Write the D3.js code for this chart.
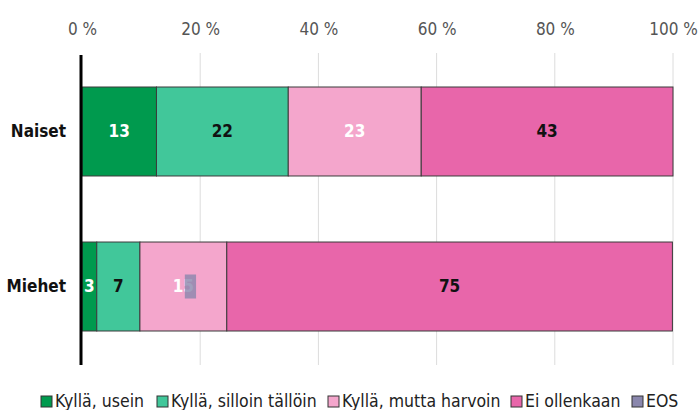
<!DOCTYPE html>
<html>
<head>
<meta charset="utf-8">
<script src="https://cdn.jsdelivr.net/npm/d3@7"></script>
<style>
  body { margin: 0; background: #fff; }
  text { font-family: "DejaVu Sans Condensed", Roboto, sans-serif; }
</style>
</head>
<body>
<script>
var groups = ["Naiset", "Miehet"];
var series = ["Kyllä, usein", "Kyllä, silloin tällöin", "Kyllä, mutta harvoin", "Ei ollenkaan", "EOS"];
var naiset = [12.6, 22.3, 22.5, 42.6, 0];
var miehet = [2.5, 7.3, 14.7, 75.4, 0];
var ticks = [0, 20, 40, 60, 80, 100];
var eosMark = [17.4, 19.3]; // small EOS label box over Miehet

var colors = ["#009a4e", "#41c79a", "#f4a6cc", "#e866aa", "#8a87ad"];
var labelColors = ["#fff", "#111", "#fff", "#111", "#fff"];

var width = 698, height = 410;

var svg = d3.select("body").append("svg")
    .attr("width", width)
    .attr("height", height);

var x = d3.scaleLinear().domain([0, 100]).range([82, 673]);
var y = d3.scaleBand().domain(groups).range([87, 331]).paddingInner(0.426).paddingOuter(0);

// grid lines
svg.selectAll(".grid")
    .data(ticks.slice(1))
  .enter().append("line")
    .attr("x1", function(d) { return x(d); })
    .attr("x2", function(d) { return x(d); })
    .attr("y1", 53)
    .attr("y2", 365)
    .style("stroke", "#dcdcdc")
    .style("stroke-width", 1);

// top tick labels
svg.append("g")
    .attr("transform", "translate(0,38)")
    .call(d3.axisTop(x).tickValues(ticks).tickSize(0).tickFormat(function(d) { return d + " %"; }))
    .call(function(g) { g.select(".domain").remove(); })
    .selectAll("text")
    .style("font-family", "'DejaVu Sans Condensed', Roboto, sans-serif")
    .style("font-size", "17px")
    .style("fill", "#555");

var rows = [naiset, miehet];
var stacked = rows.map(function(vals, i) {
    var acc = 0;
    return vals.map(function(v, j) {
        var seg = { group: groups[i], idx: j, x0: acc, x1: acc + v, v: v };
        acc += v;
        return seg;
    });
});

var rowG = svg.selectAll(".row")
    .data(stacked)
  .enter().append("g");

rowG.selectAll("rect")
    .data(function(d) { return d.filter(function(s) { return s.v > 0; }); })
  .enter().append("rect")
    .attr("x", function(d) { return x(d.x0); })
    .attr("width", function(d) { return x(d.x1) - x(d.x0); })
    .attr("y", function(d) { return y(d.group); })
    .attr("height", y.bandwidth())
    .style("fill", function(d) { return colors[d.idx]; })
    .style("stroke", "#3a3a3a")
    .style("stroke-width", 1);

rowG.selectAll(".val")
    .data(function(d) { return d.filter(function(s) { return s.v > 0; }); })
  .enter().append("text")
    .attr("x", function(d) { return (x(d.x0) + x(d.x1)) / 2; })
    .attr("y", function(d) { return y(d.group) + y.bandwidth() / 2; })
    .attr("dy", "0.35em")
    .attr("text-anchor", "middle")
    .style("font-size", "17px")
    .style("font-weight", "bold")
    .style("fill", function(d) { return labelColors[d.idx]; })
    .text(function(d) { return Math.round(d.v); });

// EOS label box
svg.append("rect")
    .attr("x", x(eosMark[0]))
    .attr("width", x(eosMark[1]) - x(eosMark[0]))
    .attr("y", y("Miehet") + y.bandwidth() / 2 - 12)
    .attr("height", 24)
    .style("fill", colors[4])
    .style("opacity", 0.8);

// category labels
svg.selectAll(".cat")
    .data(groups)
  .enter().append("text")
    .attr("x", 66)
    .attr("y", function(d) { return y(d) + y.bandwidth() / 2; })
    .attr("dy", "0.35em")
    .attr("text-anchor", "end")
    .style("font-size", "17px")
    .style("font-weight", "bold")
    .style("fill", "#111")
    .text(function(d) { return d; });

// left axis line
svg.append("line")
    .attr("x1", 81).attr("x2", 81)
    .attr("y1", 55).attr("y2", 365)
    .style("stroke", "#000")
    .style("stroke-width", 3);

// legend
var legendX = [41, 157, 328, 511, 632];
var legend = svg.selectAll(".leg")
    .data(series)
  .enter().append("g")
    .attr("transform", function(d, i) { return "translate(" + legendX[i] + ",396)"; });

legend.append("rect")
    .attr("width", 11)
    .attr("height", 11)
    .style("fill", function(d, i) { return colors[i]; })
    .style("stroke", "#333")
    .style("stroke-width", 1);

legend.append("text")
    .attr("x", 14)
    .attr("y", 11)
    .style("font-size", "17.5px")
    .style("fill", "#222")
    .text(function(d) { return d; });
</script>
</body>
</html>
